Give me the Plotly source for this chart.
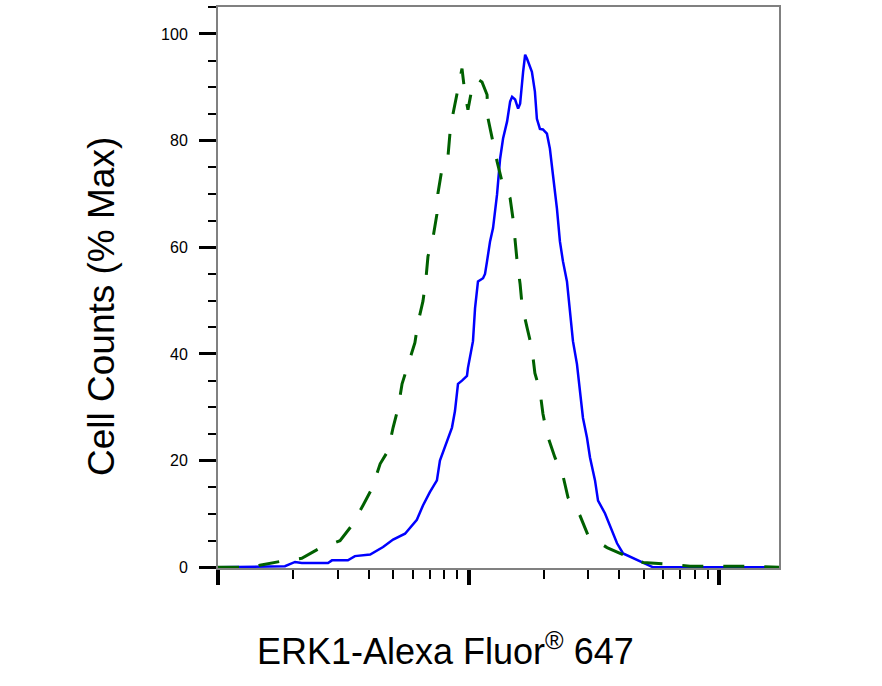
import plotly.graph_objects as go

# ERK1 stained sample (solid blue): intensity vs % of max
erk1_x = [100, 147, 185, 203, 216, 275, 285, 330, 352, 405, 456, 500, 558, 622, 658, 701,
          748, 769, 820, 859, 883, 908, 942, 986, 995, 1033, 1042, 1062, 1081, 1091, 1143,
          1164, 1186, 1219, 1253, 1300, 1337, 1374, 1426, 1466, 1493, 1535, 1578, 1607,
          1652, 1683, 1714, 1730, 1791, 1841, 1875, 1928, 1982, 2056, 2113, 2173, 2254,
          2317, 2382, 2472, 2541, 2612, 2710, 2786, 2864, 2972, 3055, 3199, 3289, 3508,
          3741, 3917, 4140, 4539, 4977, 5164, 5458, 8395, 17378]
erk1_y = [0, 0.2, 0.2, 1.0, 0.8, 0.8, 1.3, 1.3, 2.1, 2.4, 3.8, 5.2, 6.3, 8.9, 11.6, 14.1,
          16.3, 20.0, 23.7, 26.2, 29.3, 34.4, 35.0, 35.9, 37.4, 41.1, 42.4, 48.6, 52.3, 53.6,
          54.2, 55.0, 57.4, 61.1, 63.6, 69.9, 76.6, 80.4, 83.6, 87.3, 88.2, 87.7, 86.0, 86.9,
          92.9, 96.1, 95.3, 94.8, 92.9, 89.2, 84.1, 82.2, 82.1, 81.3, 78.5, 73.6, 67.3,
          61.1, 57.4, 53.6, 48.6, 42.4, 38.1, 33.1, 28.0, 24.3, 20.6, 16.3, 12.5, 10.1,
          6.9, 4.5, 2.6, 1.7, 0.9, 0.4, 0, 0, 0]

# isotype control (dashed green)
ctrl_x = [100, 141, 147, 177, 216, 255, 307, 343, 379, 412, 444, 478, 500, 524, 543, 573,
          611, 628, 658, 676, 689, 721, 748, 755, 783, 828, 843, 867, 908, 942, 968, 995,
          1023, 1081, 1132, 1186, 1197, 1242, 1300, 1361, 1466, 1507, 1535, 1563, 1607,
          1637, 1714, 1791, 1841, 1928, 1982, 2056, 2213, 2382, 2495, 2786, 3000, 3573,
          4217, 4977, 6194, 7656, 9462, 13677, 17378]
ctrl_y = [0, 0, 0.4, 1.1, 1.7, 3.6, 5.0, 7.9, 11.6, 14.8, 19.4, 21.9, 26.2, 29.9, 34.4, 37.8,
          42.1, 45.8, 49.9, 54.0, 58.3, 61.7, 66.2, 70.1, 74.6, 77.0, 81.3, 85.0, 89.5, 93.5,
          88.8, 85.8, 88.8, 91.6, 91.0, 88.6, 84.1, 80.2, 76.1, 72.3, 69.2, 65.2, 61.1, 57.4,
          53.1, 49.0, 44.9, 41.1, 36.4, 33.1, 28.8, 25.0, 20.6, 17.2, 13.1, 9.7, 6.0, 3.7,
          2.2, 0.9, 0.6, 0.2, 0.2, 0.2, 0]

y_ticks = [0, 20, 40, 60, 80, 100]
y_tick_labels = ["0", "20", "40", "60", "80", "100"]
x_major = [100, 1000, 10000]
x_minor = [200, 300, 400, 500, 600, 700, 800, 900,
           2000, 3000, 4000, 5000, 6000, 7000, 8000, 9000]

fig = go.Figure()
fig.add_trace(go.Scatter(x=erk1_x, y=erk1_y, mode="lines",
                         line=dict(color="#0000FF", width=2.5)))
fig.add_trace(go.Scatter(x=ctrl_x, y=ctrl_y, mode="lines",
                         line=dict(color="#006000", width=3, dash="21px,20px")))

fig.update_layout(
    width=882, height=686,
    margin=dict(l=218, r=103, t=5, b=118),
    paper_bgcolor="white", plot_bgcolor="white",
    showlegend=False,
    font=dict(family="Liberation Sans, Arial, sans-serif", color="black"),
    xaxis=dict(
        type="log", range=[2, 4.2395],
        showgrid=False, zeroline=False,
        showline=True, linecolor="#808080", linewidth=2, mirror=True,
        tickmode="array", tickvals=x_major, showticklabels=False,
        ticks="outside", ticklen=15, tickwidth=4, tickcolor="black",
        minor=dict(tickmode="array", tickvals=x_minor, ticks="outside",
                   ticklen=9, tickwidth=2, tickcolor="black", showgrid=False),
    ),
    yaxis=dict(
        range=[-0.13, 105.05],
        showgrid=False, zeroline=False,
        showline=True, linecolor="#808080", linewidth=2, mirror=True,
        tickmode="array", tickvals=y_ticks, ticktext=y_tick_labels,
        ticks="outside", ticklen=17, tickwidth=3, tickcolor="black",
        tickfont=dict(size=16), ticklabelstandoff=8,
        minor=dict(dtick=5, ticks="outside", ticklen=8, tickwidth=2,
                   tickcolor="black", showgrid=False),
    ),
    annotations=[
        dict(text="Cell Counts (% Max)", xref="paper", yref="paper",
             x=-0.2086, y=0.467, xanchor="center", yanchor="middle",
             textangle=-90, showarrow=False, font=dict(size=37)),
        dict(text="ERK1-Alexa Fluor<sup>®</sup> 647", xref="paper", yref="paper",
             x=0.4055, y=-0.145, xanchor="center", yanchor="middle",
             showarrow=False, font=dict(size=36)),
    ],
)

# drop the browser's default page margin so the figure sits at the window corner
fig.write_html("out.html", config={"displayModeBar": False},
               post_script="document.body.style.margin='0';")
